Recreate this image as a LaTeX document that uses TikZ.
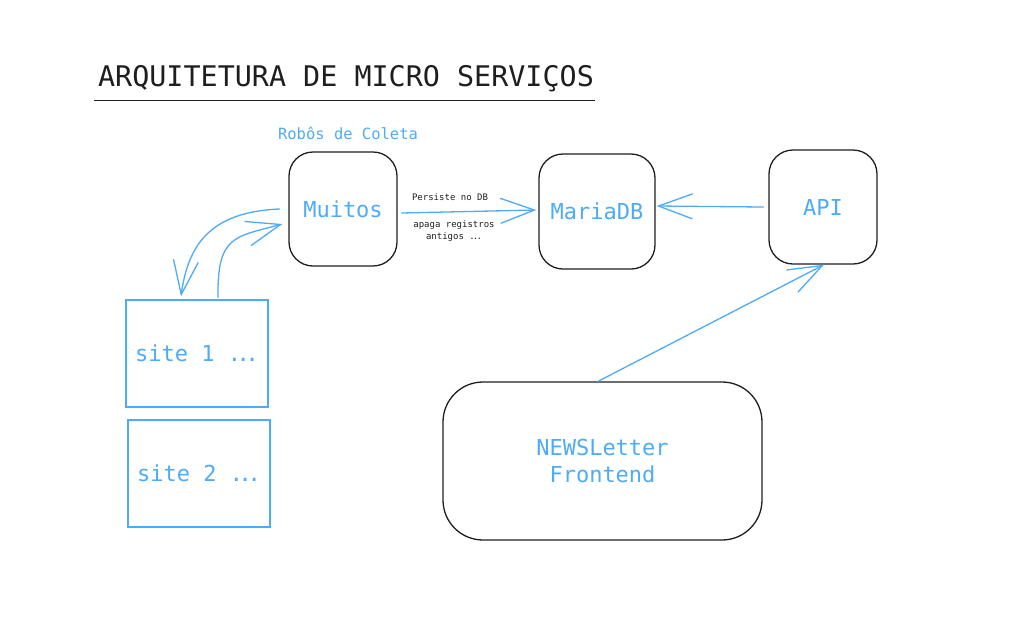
\documentclass[tikz,border=0pt]{standalone}
\usepackage{fontspec}
\newfontfamily\mono{DejaVu Sans Mono}
\usetikzlibrary{arrows.meta,calc}
\definecolor{ink}{HTML}{1E1E1E}
\definecolor{sky}{HTML}{4DABF7}
\begin{document}
\begin{tikzpicture}[x=1pt,y=-1pt,
  rbox/.style={draw=ink,line width=1.3pt,rounded corners=24pt,inner sep=0pt},
  sbox/.style={draw=sky,line width=1.3pt,inner sep=0pt},
  lbl/.style={text=sky,font=\mono\fontsize{22}{27}\selectfont,align=center},
  conn/.style={draw=sky,line width=1.3pt,line cap=round,-{Straight Barb[length=34pt,width=25pt,line width=1.3pt]}},
  note/.style={text=ink,font=\mono\fontsize{9}{11.5}\selectfont,align=center,inner sep=0pt}]
\useasboundingbox (0,0) rectangle (1017,638);

% title
\node[font=\mono\fontsize{28.4}{34}\selectfont,text=ink,inner sep=0pt,anchor=base] (title) at (346,86) {ARQUITETURA DE MICRO SERVIÇOS};
\draw[ink,line width=1.3pt] ($(title.base west)+(-4,14.5)$) -- ($(title.base east)+(1,14.5)$);

\node[text=sky,font=\mono\fontsize{15.5}{18}\selectfont,inner sep=0pt,anchor=base] (group) at (348,139) {Robôs de Coleta};

% boxes
\node[rbox,lbl,minimum width=108pt,minimum height=114pt] (muitos) at (343,209) {Muitos};
\node[rbox,lbl,minimum width=116pt,minimum height=115pt] (maria) at (597,211.5) {MariaDB};
\node[rbox,lbl,minimum width=108pt,minimum height=114pt] (api) at (823,207) {API};
\node[sbox,lbl,minimum width=142pt,minimum height=107pt] (site1) at (197,353.5) {site 1 .\kern-4.3pt.\kern-4.3pt.};
\node[sbox,lbl,minimum width=142pt,minimum height=107pt] (site2) at (199,473.5) {site 2 .\kern-4.3pt.\kern-4.3pt.};
\node[rbox,lbl,rounded corners=40pt,minimum width=319pt,minimum height=158pt] (front) at (602.5,461) {NEWSLetter\\Frontend};

% connectors
\draw[conn] ($(muitos.east)+(4,4)$) -- ($(maria.west)+(-2,-1.5)$);
\node[note] (persist) at (450,197) {Persiste no DB};
\node[note] (apaga) at (454,231) {apaga registros\\antigos .\kern-1.8pt.\kern-1.8pt.};

\draw[conn] ($(api.west)+(-5,0)$) -- ($(maria.east)+(1,-5.5)$);
\draw[conn] ($(front.north)+(-4.5,0)$) -- ($(api.south)+(1,0)$);

\draw[conn] ($(muitos.west)+(-9,0)$) .. controls (210,212) and (188,245) .. ($(site1.north)+(-16,-3)$);
\draw[conn] ($(site1.north)+(21,-2)$) .. controls (217,235) and (235,237) .. ($(muitos.west)+(-6,15)$);
\end{tikzpicture}
\end{document}
